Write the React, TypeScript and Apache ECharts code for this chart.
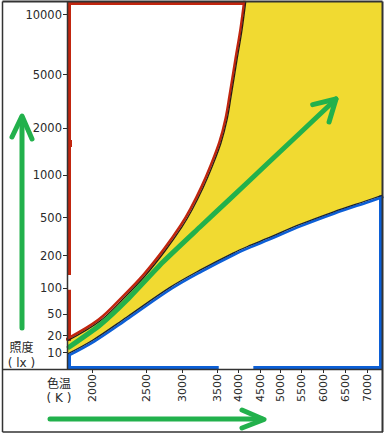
import React, { useEffect, useRef } from "react";
import * as echarts from "echarts";

// Tick labels of the two (hand-drawn, non-uniform) axes
const xTickLabels = [2000, 2500, 3000, 3500, 4000, 4500, 5000, 5500, 6000, 6500, 7000];
const yTickLabels = [10, 20, 50, 100, 200, 500, 1000, 2000, 5000, 10000];
// Where each tick sits along its axis (axis warp of the original drawing)
const xTickPlace = [24, 78.3, 114, 149.7, 170.5, 192, 212.2, 233, 255.5, 277.3, 299.5];
const yTickPlace = [16.3, 33.3, 54.7, 80.7, 113.3, 151.3, 194, 241, 294.3, 354.3];
const X_MAX = 314;
const Y_MAX = 367;

// Upper (red side) boundary of the comfortable region: colour temperature K, illuminance lx
const upperK = [1770, 2074, 2304, 2488, 2762, 3000, 3140, 3294, 3420, 3579, 3724, 3820, 3964, 4081, 4170];
const upperLx = [16.1, 37.5, 79.3, 130, 224, 400, 567, 810, 1125, 1603, 2300, 3412, 5929, 8375, 11700];
// Lower (blue side) boundary
const lowerK = [1770, 2009, 2322, 2832, 3252, 3868, 4267, 4673, 5476, 6218, 6989, 7327];
const lowerLx = [9.4, 16.8, 44.6, 102, 147, 213, 256, 303, 425, 548, 661, 718];
// Green trend arrow
const trendK = [1790, 2074, 2322, 2734, 3252, 3796, 4673, 5476, 6287];
const trendLx = [12.6, 31.6, 73.2, 175, 400, 678, 1176, 1857, 3294];
// Breaks and notches in the drawn borders
const redLeftGapLx = [96, 133];
const redLeftNotchLx = [1510, 1675];
const blueBottomGapK = [3525, 4345];

const RED = "#c1260f";
const BLUE = "#0c5fd6";
const YELLOW = "#f1da31";
const GREEN = "#22b14c";
const INK = "#2a2a2a";
const FRAME = "#333333";

function interp(v: number, xs: number[], ys: number[]) {
  let i = 0;
  if (v <= xs[0]) i = 0;
  else if (v >= xs[xs.length - 1]) i = xs.length - 2;
  else {
    while (v > xs[i + 1]) i++;
  }
  const t = (v - xs[i]) / (xs[i + 1] - xs[i]);
  return ys[i] + t * (ys[i + 1] - ys[i]);
}
const yLogTicks = yTickLabels.map((v) => Math.log10(v));
const xPos = (k: number) => interp(k, xTickLabels, xTickPlace);
const yPos = (lx: number) => interp(Math.log10(lx), yLogTicks, yTickPlace);
const toPts = (ks: number[], ls: number[]) => ks.map((k, i) => [xPos(k), yPos(ls[i])]);

function labelFor(v: number, places: number[], labels: number[]) {
  for (let i = 0; i < places.length; i++) {
    if (Math.abs(places[i] - v) < 0.01) return String(labels[i]);
  }
  return "";
}

export default function App() {
  const ref = useRef<HTMLDivElement>(null);
  useEffect(() => {
    if (!ref.current) return;
    const chart = echarts.init(ref.current, null, { renderer: "svg" });
    const upper = toPts(upperK, upperLx);
    const lower = toPts(lowerK, lowerLx);
    const trend = toPts(trendK, trendLx);
    // coloured fringe drawn just outside each boundary (style offset, in axis units ~ px)
    const OFF = 1.4;
    const upperFringe = upper.map(([x, y]) => [x - OFF, y + OFF]);
    const lowerFringe = lower.map(([x, y]) => [x + OFF, y - OFF]);
    const SM = 0.35;
    const lineBase = { type: "line", symbol: "none", silent: true, clip: true };
    const GL = 68, GT = 2, GB = 369, GR = 382;
    const E = 1.5; // half width of the coloured edge bands
    const option: any = {
      animation: false,
      backgroundColor: "#ffffff",
      grid: { left: GL, top: GT, width: X_MAX, height: Y_MAX },
      xAxis: {
        type: "value",
        min: 0,
        max: X_MAX,
        axisLine: { show: false },
        splitLine: { show: false },
        axisTick: { show: true, customValues: xTickPlace, length: 4, lineStyle: { color: INK, width: 1 } },
        axisLabel: {
          customValues: xTickPlace,
          rotate: 90,
          margin: 5,
          fontSize: 11,
          fontFamily: "DejaVu Sans",
          color: INK,
          formatter: (v: number) => labelFor(v, xTickPlace, xTickLabels),
        },
      },
      yAxis: {
        type: "value",
        min: 0,
        max: Y_MAX,
        axisLine: { show: false },
        splitLine: { show: false },
        axisTick: { show: true, customValues: yTickPlace, length: 5, lineStyle: { color: INK, width: 1 } },
        axisLabel: {
          customValues: yTickPlace,
          margin: 6,
          fontSize: 11.5,
          fontFamily: "DejaVu Sans",
          color: INK,
          formatter: (v: number) => labelFor(v, yTickPlace, yTickLabels),
        },
      },
      series: [
        // yellow comfortable region: everything above the lower boundary ...
        { ...lineBase, z: 1, smooth: SM, data: lower, lineStyle: { width: 0, opacity: 0 }, areaStyle: { origin: "end", color: YELLOW, opacity: 1 } },
        // ... minus the region above the upper boundary
        { ...lineBase, z: 2, smooth: SM, data: upper, lineStyle: { width: 0, opacity: 0 }, areaStyle: { origin: "end", color: "#ffffff", opacity: 1 } },
        // red borders of the "too bright" region
        { ...lineBase, z: 3, data: [[E, yPos(upperLx[0])], [E, yPos(redLeftGapLx[0])]], lineStyle: { color: RED, width: 3 } },
        { ...lineBase, z: 3, data: [[E, yPos(redLeftGapLx[1])], [E, Y_MAX - E], [xPos(upperK[upperK.length - 1]), Y_MAX - E]], lineStyle: { color: RED, width: 3, join: "miter" } },
        { ...lineBase, z: 3, data: [[E + 1, yPos(redLeftNotchLx[0])], [E + 1, yPos(redLeftNotchLx[1])]], lineStyle: { color: RED, width: 3 } },
        { ...lineBase, z: 3, smooth: SM, data: upperFringe, lineStyle: { color: RED, width: 2.6 } },
        // blue borders of the "too dim" region
        { ...lineBase, z: 3, smooth: SM, data: lowerFringe, lineStyle: { color: BLUE, width: 2.6 } },
        { ...lineBase, z: 3, data: [[E, yPos(lowerLx[0])], [E, E], [xPos(blueBottomGapK[0]), E]], lineStyle: { color: BLUE, width: 3, join: "miter" } },
        { ...lineBase, z: 3, data: [[xPos(blueBottomGapK[1]), E], [X_MAX - E, E], [X_MAX - E, yPos(lowerLx[lowerLx.length - 1])]], lineStyle: { color: BLUE, width: 3, join: "miter" } },
        // black boundary curves
        { ...lineBase, z: 4, smooth: SM, data: upper, lineStyle: { color: "#2b1a12", width: 1.3 } },
        { ...lineBase, z: 4, smooth: SM, data: lower, lineStyle: { color: "#14213a", width: 1.3 } },
        // green trend arrow shaft
        { ...lineBase, z: 5, smooth: 0.2, data: trend, lineStyle: { color: GREEN, width: 5, cap: "round", join: "round" } },
      ],
    };
    chart.setOption(option);

    const a = chart.convertToPixel({ gridIndex: 0 }, trend[trend.length - 2]) as number[];
    const b = chart.convertToPixel({ gridIndex: 0 }, trend[trend.length - 1]) as number[];
    const ang = Math.atan2(a[1] - b[1], a[0] - b[0]);
    const L = 24, H = 0.52;
    const arm1 = [b[0] + L * Math.cos(ang + H), b[1] + L * Math.sin(ang + H)];
    const arm2 = [b[0] + L * Math.cos(ang - H), b[1] + L * Math.sin(ang - H)];
    const greenStroke = { stroke: GREEN, lineWidth: 5, lineCap: "round", lineJoin: "round", fill: null };
    const frame = { stroke: FRAME, lineWidth: 1.5 };
    const mkLine = (x1: number, y1: number, x2: number, y2: number, st: any = frame) => ({
      type: "line", z: 100, silent: true, shape: { x1, y1, x2, y2 }, style: st,
    });
    const cjkTitle = { align: "center", verticalAlign: "middle", fontSize: 12, fontFamily: "Noto Sans CJK SC", fill: INK };
    const unitTitle = { align: "center", verticalAlign: "middle", fontSize: 12, fontFamily: "DejaVu Sans", fill: INK };
    chart.setOption({
      graphic: [
        { type: "polyline", z: 50, silent: true, shape: { points: [arm1, b, arm2] }, style: greenStroke },
        // vertical arrow (illuminance)
        { type: "polyline", z: 50, silent: true, shape: { points: [[22, 328], [22, 118]] }, style: greenStroke },
        { type: "polyline", z: 50, silent: true, shape: { points: [[12, 137], [22, 116], [32, 139]] }, style: greenStroke },
        // horizontal arrow (colour temperature)
        { type: "polyline", z: 50, silent: true, shape: { points: [[50, 419], [262, 419]] }, style: greenStroke },
        { type: "polyline", z: 50, silent: true, shape: { points: [[242, 410], [264, 419.5], [242, 428]] }, style: greenStroke },
        // axis titles
        { type: "text", z: 60, silent: true, style: { ...cjkTitle, text: "照度", x: 21.5, y: 346 } },
        { type: "text", z: 60, silent: true, style: { ...unitTitle, text: "( lx )", x: 21.5, y: 362.5 } },
        { type: "text", z: 60, silent: true, style: { ...cjkTitle, text: "色温", x: 59, y: 382 } },
        { type: "text", z: 60, silent: true, style: { ...unitTitle, text: "( K )", x: 59, y: 398 } },
        // frames
        mkLine(2.5, 1.5, GR + 0.5, 1.5, { stroke: FRAME, lineWidth: 2 }),
        mkLine(2.5, 1.5, 2.5, 432),
        mkLine(2.5, 432, GR + 1, 432),
        mkLine(GR + 0.5, 1.5, GR + 0.5, 432, { stroke: FRAME, lineWidth: 2 }),
        mkLine(GL - 0.5, 1.5, GL - 0.5, GB),
        mkLine(2.5, GB + 0.5, GR + 0.5, GB + 0.5),
      ],
    });
    return () => chart.dispose();
  }, []);
  return <div ref={ref} style={{ position: "fixed", left: 0, top: 0, width: 387, height: 437 }} />;
}
